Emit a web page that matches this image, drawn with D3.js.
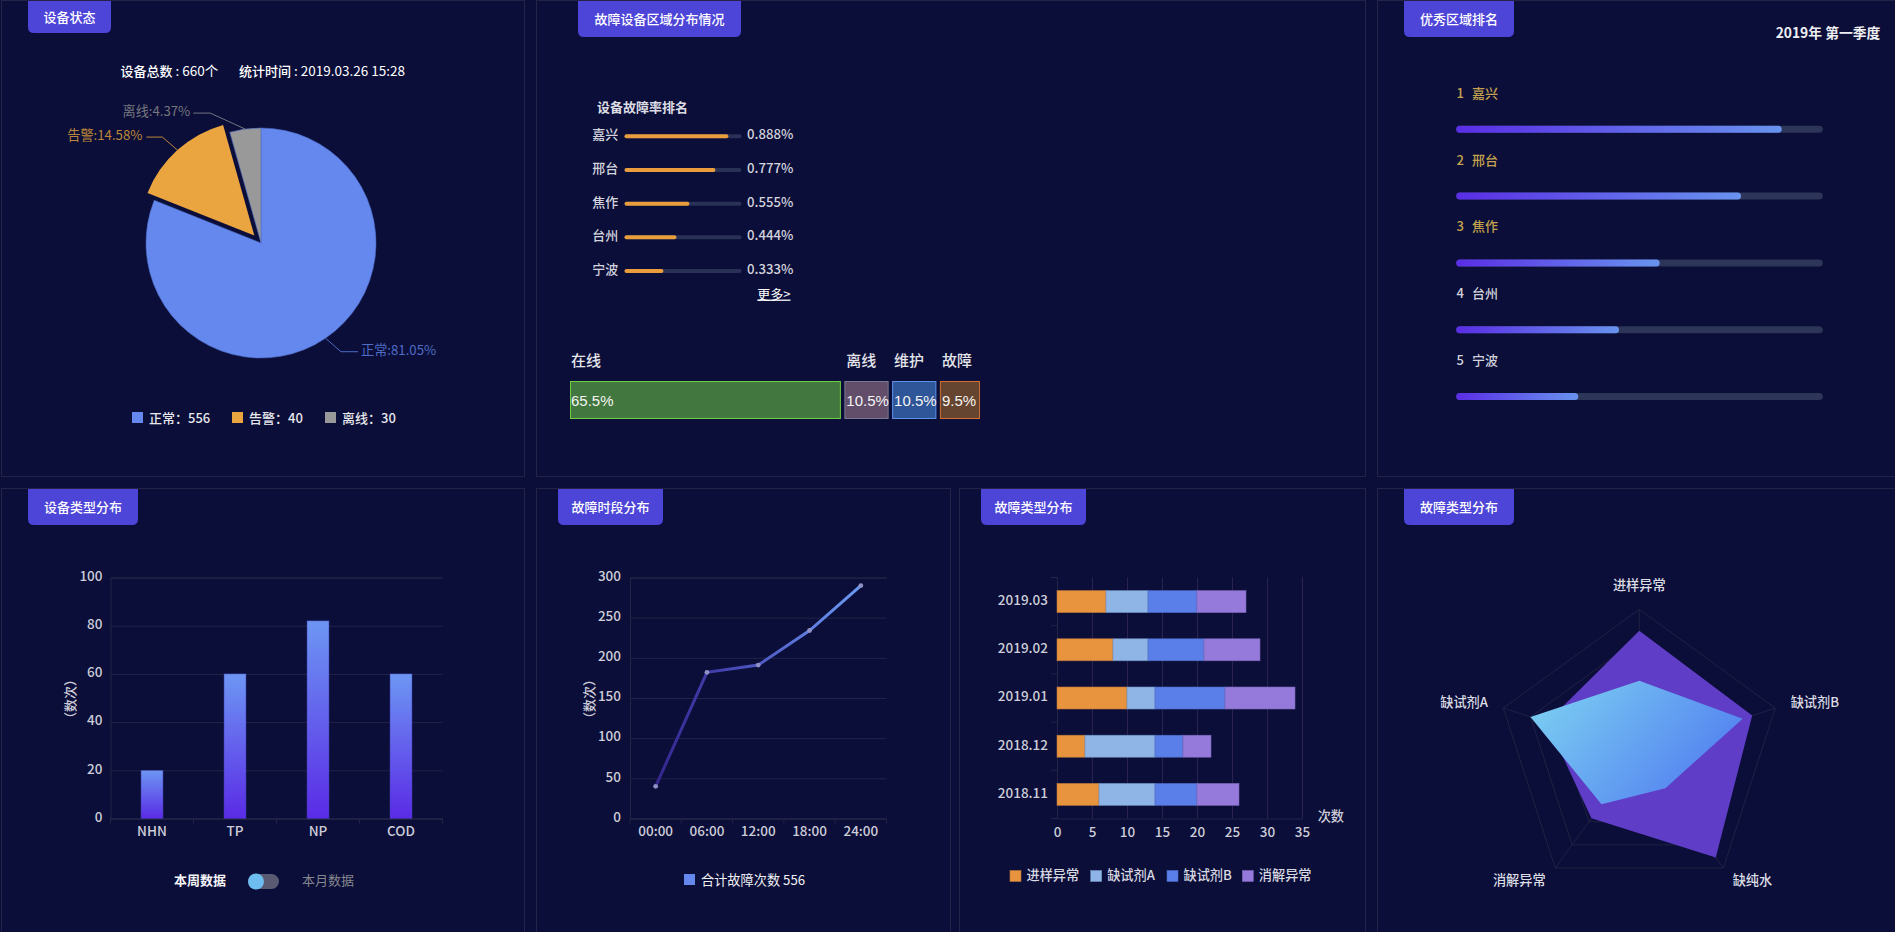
<!DOCTYPE html>
<html lang="zh">
<head>
<meta charset="utf-8">
<title>设备监控</title>
<script src="https://cdn.jsdelivr.net/npm/d3@7"></script>
<style>
html,body{margin:0;padding:0;background:#0a0e38;overflow:hidden;}
svg{display:block;}
text{font-family:"Noto Sans CJK SC","Noto Sans",sans-serif;}
</style>
</head>
<body>
<svg id="c" width="1895" height="932"></svg>
<script>
// ---- data ----
const pieNames = ["正常", "告警", "离线"];
const pieValues = [556, 100, 30];
const pieLabels = ["正常:81.05%", "告警:14.58%", "离线:4.37%"];
const pieLegendValues = [556, 40, 30];
const regionNames = ["嘉兴", "邢台", "焦作", "台州", "宁波"];
const regionRates = [0.888, 0.777, 0.555, 0.444, 0.333];
const statusNames = ["在线", "离线", "维护", "故障"];
const statusValues = [65.5, 10.5, 10.5, 9.5];
const deviceTypes = ["NHN", "TP", "NP", "COD"];
const deviceCounts = [20, 60, 82, 60];
const hourLabels = ["00:00", "06:00", "12:00", "18:00", "24:00"];
const hourCounts = [40, 182, 191, 234, 290];
const months = ["2019.03", "2019.02", "2019.01", "2018.12", "2018.11"];
const faultNames = ["进样异常", "缺试剂A", "缺试剂B", "消解异常"];
const faultSample = [7, 8, 10, 4, 6];
const faultReagentA = [6, 5, 4, 10, 8];
const faultReagentB = [7, 8, 10, 4, 6];
const faultDigest = [7, 8, 10, 4, 6];
const radarAxes = ["进样异常", "缺试剂B", "缺纯水", "消解异常", "缺试剂A"];
const radarSeriesA = [85, 83, 91, 57, 68];
const radarSeriesB = [50, 76, 31, 45, 80];

// ---- styles ----
const BG = "#0a0e38", LINE = "#242347", TAB = "#4d44d8", AXIS_TXT = "#cdcdd8";
const svg = d3.select("#c");
svg.append("rect").attr("width", 1895).attr("height", 932).attr("fill", BG);
const defs = svg.append("defs");

function txt(g, x, y, s, o = {}) {
  const t = g.append("text").attr("x", x).attr("y", y).attr("dy", "0.35em")
    .attr("font-size", o.size || 13.2).attr("fill", o.fill || "#fff")
    .attr("text-anchor", o.anchor || "start").attr("font-weight", o.weight || 400);
  if (o.family) t.style("font-family", o.family);
  if (o.rotate) t.attr("transform", `rotate(${o.rotate} ${x} ${y})`);
  return t.text(s);
}
function panel(x0, y0, x1, y1, tx0, tx1, tabBottom, title) {
  svg.append("rect").attr("x", x0 + .5).attr("y", y0 + .5).attr("width", x1 - x0).attr("height", y1 - y0)
    .attr("fill", "none").attr("stroke", LINE);
  const r = 6, top = y0 + 1;
  svg.append("path").attr("fill", TAB)
    .attr("d", `M${tx0},${top}H${tx1}V${tabBottom - r}Q${tx1},${tabBottom} ${tx1 - r},${tabBottom}H${tx0 + r}Q${tx0},${tabBottom} ${tx0},${tabBottom - r}Z`);
  txt(svg, (tx0 + tx1) / 2, (top + tabBottom) / 2, title, { anchor: "middle", weight: 500, size: 13 });
}
panel(1, 0, 524, 476, 28, 111, 33, "设备状态");
panel(536, 0, 1365, 476, 578, 741, 37, "故障设备区域分布情况");
panel(1377, 0, 1960, 476, 1404, 1514, 37, "优秀区域排名");
panel(1, 488, 524, 990, 28, 138, 525, "设备类型分布");
panel(536, 488, 950, 990, 558, 663, 525, "故障时段分布");
panel(959, 488, 1365, 990, 981, 1086, 525, "故障类型分布");
panel(1377, 488, 1960, 990, 1404, 1514, 525, "故障类型分布");

function vGrad(id, top, bottom) {
  const g = defs.append("linearGradient").attr("id", id).attr("x1", 0).attr("y1", 0).attr("x2", 0).attr("y2", 1);
  g.append("stop").attr("offset", 0).attr("stop-color", top);
  g.append("stop").attr("offset", 1).attr("stop-color", bottom);
}
function hGrad(id, left, right) {
  const g = defs.append("linearGradient").attr("id", id).attr("x1", 0).attr("y1", 0).attr("x2", 1).attr("y2", 0);
  g.append("stop").attr("offset", 0).attr("stop-color", left);
  g.append("stop").attr("offset", 1).attr("stop-color", right);
}
function styleAxis(g) {
  g.selectAll("path,line").attr("stroke", LINE).attr("stroke-width", 1);
  g.selectAll("text").attr("fill", AXIS_TXT).attr("font-size", 13.5).attr("font-weight", 500)
    .style("font-family", '"Noto Sans CJK SC","Noto Sans",sans-serif');
}
function mixed(x, y, bold, plain) {
  const t = txt(svg, x, y, "");
  t.append("tspan").attr("font-weight", 500).attr("font-size", 13).text(bold);
  t.append("tspan").attr("font-size", 13.5).text(plain);
}

// ---- panel 1: pie ----
(function () {
  mixed(120.5, 71, "设备总数", " : 660个");
  mixed(239, 71, "统计时间", " : 2019.03.26 15:28");
  const colors = ["#6488ee", "#eba540", "#999999"];
  const labelColors = ["#4f6cc6", "#bd863a", "#76767f"];
  const R = 115, cx = 261, cy = 243, off = 10;
  const arcs = d3.pie().sort(null)(pieValues);
  const arc = d3.arc().innerRadius(0).outerRadius(R);
  const g = svg.append("g").attr("transform", `translate(${cx},${cy})`);
  const dir = a => [Math.sin(a), -Math.cos(a)];
  const labelLayout = [
    { ex: 15.5, ey: 13.5, len: 17, anchor: "start", gap: 3 },
    { ex: -15, ey: -13, len: -16, anchor: "end", gap: -4 },
    { ex: -35, ey: -16, len: -17, anchor: "end", gap: -3 }
  ];
  arcs.forEach((d, i) => {
    const mid = (d.startAngle + d.endAngle) / 2, u = dir(mid);
    const o = i === 1 ? [u[0] * off, u[1] * off] : [0, 0];
    g.append("path").attr("d", arc(d)).attr("fill", colors[i])
      .attr("transform", `translate(${o[0]},${o[1]})`)
      .attr("stroke", i === 1 ? BG : "#4f6cc6").attr("stroke-width", i === 1 ? 0 : 0.6);
    const p0 = [o[0] + u[0] * R, o[1] + u[1] * R];
    const l = labelLayout[i];
    const p1 = [p0[0] + l.ex, p0[1] + l.ey];
    const p2 = [p1[0] + l.len, p1[1]];
    g.append("path").attr("d", d3.line()([p0, p1, p2])).attr("fill", "none")
      .attr("stroke", labelColors[i]).attr("stroke-width", 1);
    txt(g, p2[0] + l.gap, p2[1] - 1.5, pieLabels[i], { fill: labelColors[i], anchor: l.anchor });
  });
  const legendX = [132, 232, 325];
  pieNames.forEach((n, i) => {
    svg.append("rect").attr("x", legendX[i]).attr("y", 412).attr("width", 11).attr("height", 11).attr("fill", colors[i]);
    txt(svg, legendX[i] + 17, 418, `${n}：${pieLegendValues[i]}`, { fill: "#e8e8ee", weight: 500, size: 13 });
  });
})();

// ---- panel 2: rate ranking + status bar ----
(function () {
  txt(svg, 597, 107, "设备故障率排名", { fill: "#dcdce4", weight: 700, size: 13 });
  const y = d3.scalePoint().domain(regionNames).range([136.3, 271]);
  const x = d3.scaleLinear().domain([0, 1]).range([624.5, 741.5]);
  regionNames.forEach((n, i) => {
    txt(svg, 592.3, y(n) - 1.5, n, { fill: "#d4d4de", weight: 500, size: 13 });
    svg.append("rect").attr("x", x(0)).attr("y", y(n) - 2).attr("width", x(1) - x(0)).attr("height", 4)
      .attr("rx", 2).attr("fill", "#2a3156");
    svg.append("rect").attr("x", x(0)).attr("y", y(n) - 2).attr("width", x(regionRates[i]) - x(0)).attr("height", 4)
      .attr("rx", 2).attr("fill", "#e99d3c");
    txt(svg, 747, y(n) - 1.5, regionRates[i].toFixed(3) + "%", { fill: "#d4d4de", weight: 500 });
  });
  txt(svg, 757.3, 294, "更多>", { fill: "#fff", size: 13 }).attr("text-decoration", "underline");

  const w = d3.scaleLinear().domain([0, 100]).range([0, 412]);
  const fills = ["#42773f", "#624d6a", "#30569a", "#664530"];
  const strokes = ["#6ed03f", "#78788e", "#5d92e8", "#cf7030"];
  const boxTop = 381.5, boxH = 37;
  let bx = 570.5;
  statusNames.forEach((n, i) => {
    const bw = w(statusValues[i]);
    svg.append("rect").attr("x", bx).attr("y", boxTop).attr("width", bw).attr("height", boxH)
      .attr("fill", fills[i]).attr("stroke", strokes[i]);
    txt(svg, bx + (i === 0 ? 0.5 : 1.5), 400.5, statusValues[i] + "%", {
      size: 15, fill: "#f4f4f4", family: '"Liberation Sans",Arial,sans-serif'
    });
    txt(svg, i === 0 ? 571 : bx + 1.5, 361.2, n, { size: 15, fill: "#e4e4ea", weight: 500 });
    bx += bw + 4.5;
  });
})();

// ---- panel 3: region ranking ----
(function () {
  txt(svg, 1775.7, 33, "2019年 第一季度", { fill: "#eeeef2", weight: 700, size: 13.8 });
  hGrad("rankGrad", "#5a2de6", "#6893ee");
  const x = d3.scaleLinear().domain([0, 1]).range([1456.2, 1822.8]);
  const labelY = d3.scalePoint().domain(regionNames).range([93.3, 360]);
  const barY = d3.scalePoint().domain(regionNames).range([129.3, 396.5]);
  regionNames.forEach((n, i) => {
    const c = i < 3 ? "#c4a24e" : "#d2d2dc";
    txt(svg, 1456.6, labelY(n), String(i + 1), { fill: c, weight: 500, size: 13 });
    txt(svg, 1472, labelY(n), n, { fill: c, weight: 500, size: 13 });
    svg.append("rect").attr("x", x(0)).attr("y", barY(n) - 3.5).attr("width", x(1) - x(0)).attr("height", 7)
      .attr("rx", 3.5).attr("fill", "#2d3558");
    svg.append("rect").attr("x", x(0)).attr("y", barY(n) - 3.5).attr("width", x(regionRates[i]) - x(0)).attr("height", 7)
      .attr("rx", 3.5).attr("fill", "url(#rankGrad)");
  });
})();

// ---- panel 4: bars ----
(function () {
  vGrad("barGrad", "#6d96f3", "#5a2be6");
  const x = d3.scaleBand().domain(deviceTypes).range([110.5, 442.5]);
  const y = d3.scaleLinear().domain([0, 100]).range([818.5, 577.5]);
  const gy = svg.append("g").attr("transform", "translate(110.5,0)")
    .call(d3.axisLeft(y).tickValues([0, 20, 40, 60, 80, 100]).tickSize(-332).tickPadding(8));
  styleAxis(gy);
  gy.selectAll("text").attr("dy", "0.2em");
  const gx = svg.append("g").attr("transform", "translate(0,818.5)")
    .call(d3.axisBottom(x).tickSize(0).tickPadding(8));
  styleAxis(gx);
  gx.selectAll("text").attr("dy", "0.71em");
  deviceTypes.concat([null]).forEach((d, i) => {
    const px = d === null ? x.range()[1] : x(d);
    svg.append("line").attr("x1", px).attr("x2", px).attr("y1", 818.5).attr("y2", 823.5).attr("stroke", LINE);
  });
  svg.selectAll(".devBar").data(deviceCounts).join("rect").attr("class", "devBar")
    .attr("x", (d, i) => x(deviceTypes[i]) + x.bandwidth() / 2 - 11)
    .attr("width", 22).attr("y", d => y(d)).attr("height", d => y(0) - y(d))
    .attr("fill", "url(#barGrad)").attr("stroke", "#3f3fa8").attr("stroke-width", .5);
  txt(svg, 70.5, 699, "（数次）", { size: 13, fill: "#cdcdd8", anchor: "middle", rotate: -90, weight: 500 });
  txt(svg, 174, 880.3, "本周数据", { weight: 700, fill: "#f4f4f8", size: 13 });
  svg.append("rect").attr("x", 248).attr("y", 874).attr("width", 31).attr("height", 15).attr("rx", 7.5).attr("fill", "#5a5a72");
  svg.append("circle").attr("cx", 256).attr("cy", 881.5).attr("r", 8).attr("fill", "#6dbdf0");
  txt(svg, 302, 880.3, "本月数据", { fill: "#86868f", size: 13 });
})();

// ---- panel 5: line ----
(function () {
  const x = d3.scaleBand().domain(hourLabels).range([630, 886.5]);
  const y = d3.scaleLinear().domain([0, 300]).range([818.5, 577.5]);
  const gy = svg.append("g").attr("transform", "translate(630,0)")
    .call(d3.axisLeft(y).tickValues([0, 50, 100, 150, 200, 250, 300]).tickSize(-256.5).tickPadding(9));
  styleAxis(gy);
  gy.selectAll("text").attr("dy", "0.2em");
  const gx = svg.append("g").attr("transform", "translate(0,818.5)")
    .call(d3.axisBottom(x).tickSize(0).tickPadding(8));
  styleAxis(gx);
  gx.selectAll("text").attr("dy", "0.71em");
  hourLabels.concat([null]).forEach(d => {
    const px = d === null ? x.range()[1] : x(d);
    svg.append("line").attr("x1", px).attr("x2", px).attr("y1", 818.5).attr("y2", 823.5).attr("stroke", LINE);
  });
  const px = (d, i) => x(hourLabels[i]) + x.bandwidth() / 2;
  const lg = defs.append("linearGradient").attr("id", "lineGrad").attr("gradientUnits", "userSpaceOnUse")
    .attr("x1", px(0, 0)).attr("y1", 0).attr("x2", px(0, 4)).attr("y2", 0);
  [[0, "#35268f"], [0.25, "#403aa8"], [0.5, "#4f58c4"], [0.75, "#5f7ddf"], [1, "#6b9af2"]]
    .forEach(s => lg.append("stop").attr("offset", s[0]).attr("stop-color", s[1]));
  const line = d3.line().x(px).y(d => y(d));
  svg.append("path").attr("d", line(hourCounts)).attr("fill", "none")
    .attr("stroke", "url(#lineGrad)").attr("stroke-width", 3);
  svg.selectAll(".hourPt").data(hourCounts).join("circle").attr("class", "hourPt")
    .attr("cx", px).attr("cy", d => y(d)).attr("r", 2.4).attr("fill", "#8f90c4");
  txt(svg, 589.3, 699, "（数次）", { size: 13, fill: "#cdcdd8", anchor: "middle", rotate: -90, weight: 500 });
  svg.append("rect").attr("x", 684).attr("y", 874).attr("width", 11).attr("height", 11).attr("fill", "#6488ee");
  txt(svg, 701, 880, "合计故障次数 556", { fill: "#f0f0f4" });
})();

// ---- panel 6: stacked bars ----
(function () {
  const colors = ["#e8933e", "#8fb4e6", "#5b7fe8", "#957adb"];
  const strokes = ["#b9773c", "#6f8fc4", "#4d68bf", "#7a64b6"];
  const series = [faultSample, faultReagentA, faultReagentB, faultDigest];
  const x = d3.scaleLinear().domain([0, 35]).range([1057, 1302]);
  const y = d3.scaleBand().domain(months).range([577.5, 818.5]);
  const gx = svg.append("g").attr("transform", "translate(0,818.5)")
    .call(d3.axisBottom(x).tickValues(d3.range(0, 36, 5)).tickSize(-241).tickPadding(7));
  styleAxis(gx);
  gx.selectAll("line").attr("stroke", "#2a2350");
  gx.selectAll("text").attr("dy", "0.85em");
  const gy = svg.append("g").attr("transform", "translate(1057,0)")
    .call(d3.axisLeft(y).tickSize(0).tickPadding(9));
  styleAxis(gy);
  gy.selectAll("text").attr("dy", "0.25em");
  months.concat([null]).forEach(d => {
    const py = d === null ? y.range()[1] : y(d);
    svg.append("line").attr("x1", 1051).attr("x2", 1057).attr("y1", py).attr("y2", py).attr("stroke", LINE);
  });
  months.forEach((m, i) => {
    let acc = 0;
    series.forEach((s, k) => {
      svg.append("rect").attr("x", x(acc)).attr("width", x(acc + s[i]) - x(acc))
        .attr("y", y(m) + y.bandwidth() / 2 - 11).attr("height", 22)
        .attr("fill", colors[k]).attr("stroke", strokes[k]).attr("stroke-width", .6);
      acc += s[i];
    });
  });
  txt(svg, 1317.7, 816, "次数", { fill: AXIS_TXT, weight: 500 });
  const lx = [1010, 1090.7, 1167, 1242.3];
  faultNames.forEach((n, i) => {
    svg.append("rect").attr("x", lx[i]).attr("y", 870.5).attr("width", 11).attr("height", 11)
      .attr("fill", colors[i]).attr("stroke", strokes[i]).attr("stroke-width", .6);
    txt(svg, lx[i] + 16.5, 875, n, { fill: "#d8d8e2", weight: 500 });
  });
})();

// ---- panel 7: radar ----
(function () {
  const cx = 1639.3, cy = 752.3, R = 143;
  const r = d3.scaleLinear().domain([0, 100]).range([0, R]);
  const a = i => i * 2 * Math.PI / radarAxes.length;
  const g = svg.append("g").attr("transform", `translate(${cx},${cy})`);
  const radial = d3.lineRadial().angle((d, i) => a(i)).radius(d => r(d)).curve(d3.curveLinearClosed);
  [20, 40, 60, 80, 100].forEach(l => {
    g.append("path").attr("d", radial(radarAxes.map(() => l))).attr("fill", "none").attr("stroke", "#212144");
  });
  radarAxes.forEach((n, i) => {
    g.append("line").attr("x1", 0).attr("y1", 0)
      .attr("x2", Math.sin(a(i)) * R).attr("y2", -Math.cos(a(i)) * R).attr("stroke", "#212144");
  });
  const bg = defs.append("linearGradient").attr("id", "radarGrad")
    .attr("x1", 0).attr("y1", 0.25).attr("x2", 1).attr("y2", 0.75);
  bg.append("stop").attr("offset", 0).attr("stop-color", "#7accf2");
  bg.append("stop").attr("offset", 1).attr("stop-color", "#4f7af0");
  g.append("path").attr("d", radial(radarSeriesA)).attr("fill", "#5f3dc6");
  g.append("path").attr("d", radial(radarSeriesB)).attr("fill", "url(#radarGrad)");
  const labelPos = [
    { x: 1639.3, y: 585.7, anchor: "middle" },
    { x: 1790.7, y: 702, anchor: "start" },
    { x: 1732.7, y: 880, anchor: "start" },
    { x: 1545.7, y: 880, anchor: "end" },
    { x: 1488, y: 702, anchor: "end" }
  ];
  radarAxes.forEach((n, i) => {
    txt(svg, labelPos[i].x, labelPos[i].y, n, { fill: "#dcdce4", anchor: labelPos[i].anchor, weight: 500 });
  });
})();
</script>
</body>
</html>
